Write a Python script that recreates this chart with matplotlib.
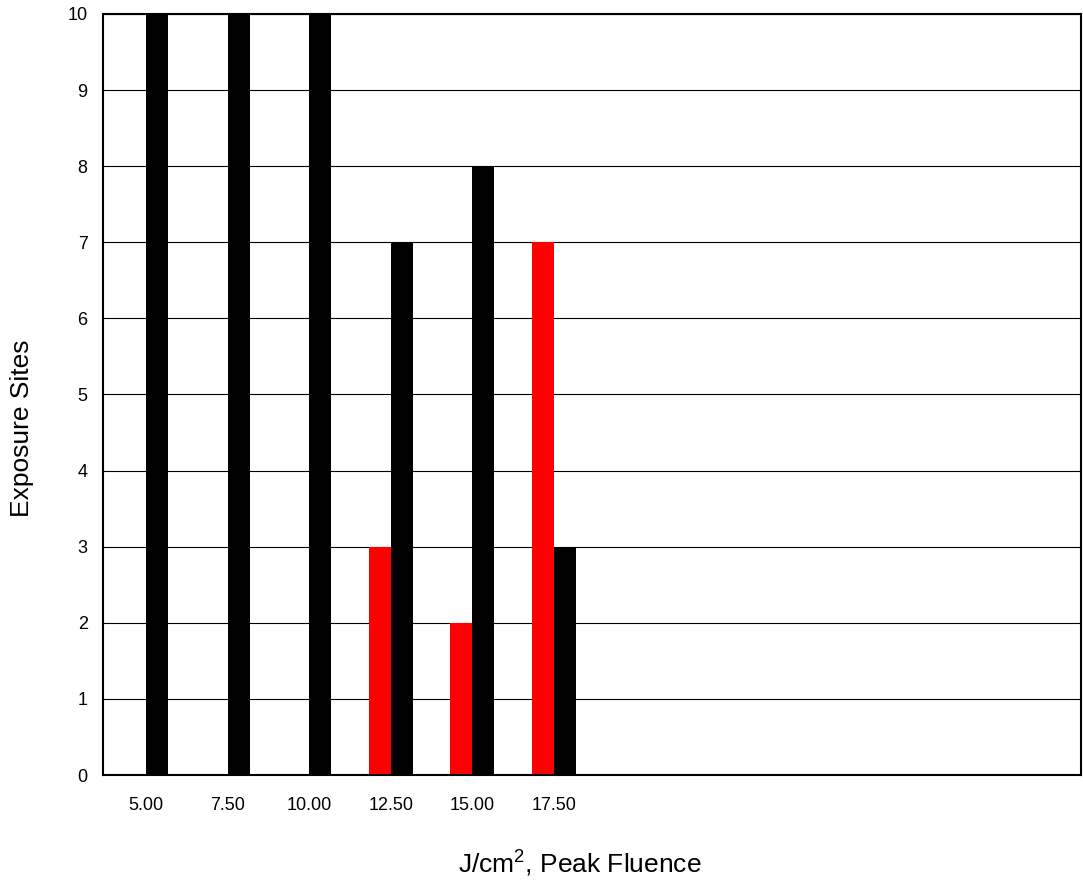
import matplotlib
matplotlib.use("Agg")
import matplotlib.pyplot as plt
import numpy as np

plt.rcParams["font.family"] = ["Liberation Sans", "DejaVu Sans"]

# data
fluence_labels = ["5.00", "7.50", "10.00", "12.50", "15.00", "17.50"]
n_slots = 12  # category axis has room for 12 groups, only 6 used
red_sites = [0, 0, 0, 3, 2, 7]
black_sites = [10, 10, 10, 7, 8, 3]

fig = plt.figure(figsize=(10.83, 8.84), dpi=100)
ax = fig.add_axes([103 / 1083, 1 - 775 / 884, 978 / 1083, 761 / 884])

x = np.arange(len(fluence_labels))
w = 0.27
ax.bar(x - w / 2, red_sites, width=w, color="#ff0000", zorder=3)
ax.bar(x + w / 2, black_sites, width=w, color="#000000", zorder=3)

ax.set_xlim(-0.53, n_slots - 0.53)
ax.set_ylim(0, 10)
ax.set_yticks(range(0, 11))
ax.set_xticks(x)
ax.set_xticklabels(fluence_labels)
ax.tick_params(axis="both", length=0, labelsize=13)
ax.tick_params(axis="x", pad=16)
ax.tick_params(axis="y", pad=11)
ax.yaxis.grid(True, color="black", linewidth=0.8, zorder=1)
ax.set_axisbelow(True)
for s in ax.spines.values():
    s.set_linewidth(1.5)
    s.set_zorder(4)

fig.text(22 / 1083, 1 - 428 / 884, "Exposure Sites", fontsize=19,
         rotation=90, ha="center", va="center")
fig.text(580 / 1083, 1 - 864 / 884, r"J/cm$\mathregular{^2}$, Peak Fluence",
         fontsize=19, ha="center", va="center")

fig.savefig("out.png", dpi=100)
